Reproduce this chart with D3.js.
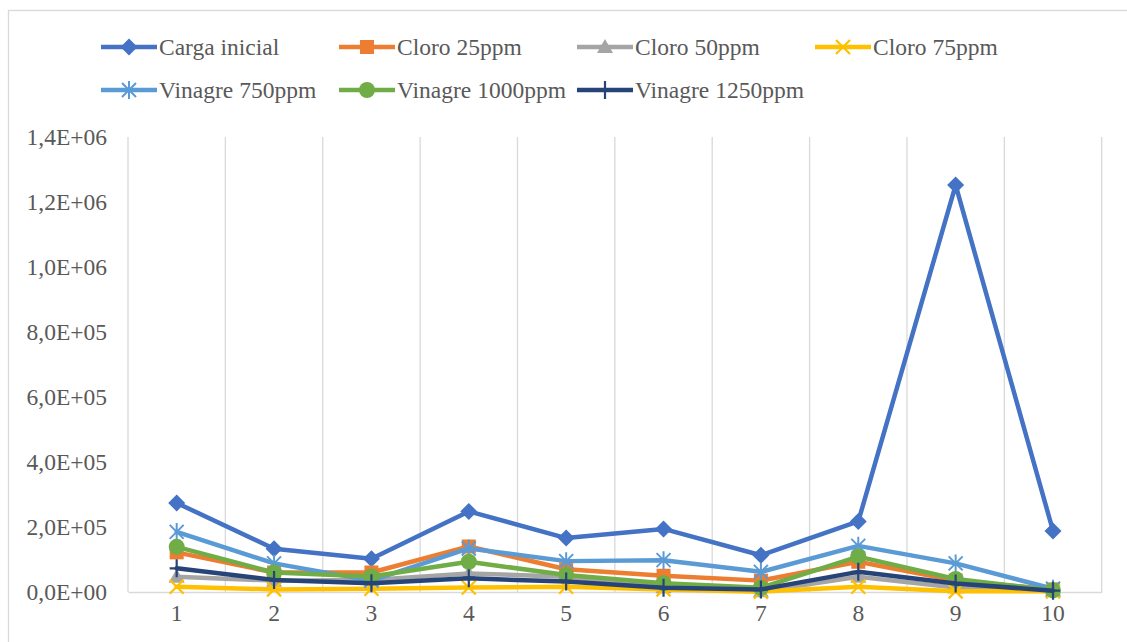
<!DOCTYPE html>
<html>
<head>
<meta charset="utf-8">
<script src="https://cdn.jsdelivr.net/npm/d3@7"></script>
<style>
  html, body { margin: 0; padding: 0; background: #fff; }
  svg { display: block; }
  text { font-family: "Liberation Serif", "Times New Roman", serif; fill: #595959; }
</style>
</head>
<body>
<svg id="chart" width="1127" height="642"></svg>
<script>
// Muestras 1..10
const categories = ["1", "2", "3", "4", "5", "6", "7", "8", "9", "10"];

const cargaInicial   = [274000, 133000, 102000, 248000, 166000, 194000, 113000, 217000, 1252000, 188000];
const cloro25        = [122000, 60000, 60000, 140000, 70000, 50000, 35000, 93000, 35000, 8000];
const cloro50        = [47000, 35000, 37000, 57000, 47000, 15000, 2000, 47000, 14000, 3000];
const cloro75        = [16000, 8000, 10000, 14000, 16000, 8000, 1000, 16000, 2000, 2000];
const vinagre750     = [185000, 88000, 35000, 134000, 95000, 98000, 62000, 142000, 88000, 10000];
const vinagre1000    = [139000, 60000, 48000, 93000, 52000, 27000, 13000, 109000, 40000, 5000];
const vinagre1250    = [73000, 37000, 27000, 42000, 32000, 13000, 8000, 62000, 26000, 4000];

const yTicks = [0, 200000, 400000, 600000, 800000, 1000000, 1200000, 1400000];
const yTickLabels = ["0,0E+00", "2,0E+05", "4,0E+05", "6,0E+05", "8,0E+05", "1,0E+06", "1,2E+06", "1,4E+06"];

const series = [
  { name: "Carga inicial",   values: cargaInicial, color: "#4472C4", marker: "diamond" },
  { name: "Cloro 25ppm",     values: cloro25,      color: "#ED7D31", marker: "square" },
  { name: "Cloro 50ppm",     values: cloro50,      color: "#A5A5A5", marker: "triangle" },
  { name: "Cloro 75ppm",     values: cloro75,      color: "#FFC000", marker: "x" },
  { name: "Vinagre 750ppm",  values: vinagre750,   color: "#5B9BD5", marker: "star" },
  { name: "Vinagre 1000ppm", values: vinagre1000,  color: "#70AD47", marker: "circle" },
  { name: "Vinagre 1250ppm", values: vinagre1250,  color: "#264478", marker: "plus" }
];

const FONT_SIZE = 23.5;

const svg = d3.select("#chart");

// chart border
svg.append("rect")
  .attr("x", 8.5).attr("y", 10.5)
  .attr("width", 1140).attr("height", 660)
  .attr("fill", "#fff").attr("stroke", "#d9d9d9").attr("stroke-width", 1.3);

const plot = { left: 128, right: 1101.7, top: 137, bottom: 592 };

const x = d3.scaleBand().domain(categories).range([plot.left, plot.right]);
const y = d3.scaleLinear().domain([0, 1400000]).range([plot.bottom, plot.top]);

// vertical gridlines
const gridX = categories.map(c => x(c)).concat([plot.right]);
svg.append("g").selectAll("line").data(gridX).join("line")
  .attr("x1", d => d).attr("x2", d => d)
  .attr("y1", plot.top).attr("y2", plot.bottom)
  .attr("stroke", "#d9d9d9").attr("stroke-width", 1.3);

// x axis
const xAxis = svg.append("g")
  .attr("transform", `translate(0,${plot.bottom})`)
  .call(d3.axisBottom(x).tickSize(0).tickPadding(17));
xAxis.select(".domain").attr("stroke", "#d9d9d9").attr("stroke-width", 1.3);
xAxis.selectAll("text")
  .attr("font-size", FONT_SIZE)
  .style("font-family", '"Liberation Serif", serif')
  .attr("fill", "#595959")
  .attr("dy", "0.5em");

// y axis
const yAxis = svg.append("g")
  .attr("transform", `translate(${plot.left},0)`)
  .call(d3.axisLeft(y).tickValues(yTicks).tickFormat((d, i) => yTickLabels[i]).tickSize(0).tickPadding(21));
yAxis.select(".domain").remove();
yAxis.selectAll("text")
  .attr("font-size", FONT_SIZE)
  .style("font-family", '"Liberation Serif", serif')
  .attr("fill", "#595959");

// marker symbols
function drawMarker(g, type, color, cx, cy) {
  const m = g.append("g").attr("transform", `translate(${cx},${cy})`);
  switch (type) {
    case "diamond":
      m.append("path").attr("d", "M0,-8.5L8.5,0L0,8.5L-8.5,0Z").attr("fill", color);
      break;
    case "square":
      m.append("rect").attr("x", -7).attr("y", -7).attr("width", 14).attr("height", 14).attr("fill", color);
      break;
    case "triangle":
      m.append("path").attr("d", "M0,-8L8,6L-8,6Z").attr("fill", color);
      break;
    case "circle":
      m.append("circle").attr("r", 8).attr("fill", color);
      break;
    case "x":
      m.append("path").attr("d", "M-7,-7L7,7M-7,7L7,-7").attr("stroke", color).attr("stroke-width", 2.2).attr("fill", "none");
      break;
    case "star":
      m.append("path").attr("d", "M-7,-7L7,7M-7,7L7,-7M0,-9L0,9").attr("stroke", color).attr("stroke-width", 2).attr("fill", "none");
      break;
    case "plus":
      m.append("path").attr("d", "M0,-9L0,9M-7,0L7,0").attr("stroke", color).attr("stroke-width", 2.2).attr("fill", "none");
      break;
  }
}

const line = d3.line()
  .x((d, i) => x(categories[i]) + x.bandwidth() / 2)
  .y(d => y(d));

const seriesG = svg.append("g");
series.forEach(s => {
  const g = seriesG.append("g");
  g.append("path")
    .attr("d", line(s.values))
    .attr("fill", "none")
    .attr("stroke", s.color)
    .attr("stroke-width", 4.5)
    .attr("stroke-linejoin", "round")
    .attr("stroke-linecap", "round");
  s.values.forEach((v, i) => {
    drawMarker(g, s.marker, s.color, x(categories[i]) + x.bandwidth() / 2, y(v));
  });
});

// legend
const legendCols = [101, 339, 577, 815];
const legendRows = [47, 90];
series.forEach((s, i) => {
  const col = i < 4 ? i : i - 4;
  const row = i < 4 ? 0 : 1;
  const lx = legendCols[col], ly = legendRows[row];
  const g = svg.append("g");
  g.append("line")
    .attr("x1", lx).attr("x2", lx + 56)
    .attr("y1", ly).attr("y2", ly)
    .attr("stroke", s.color).attr("stroke-width", 4.5);
  drawMarker(g, s.marker, s.color, lx + 28, ly);
  g.append("text")
    .attr("x", lx + 58).attr("y", ly)
    .attr("dy", "0.35em")
    .attr("font-size", FONT_SIZE)
    .text(s.name);
});
</script>
</body>
</html>
